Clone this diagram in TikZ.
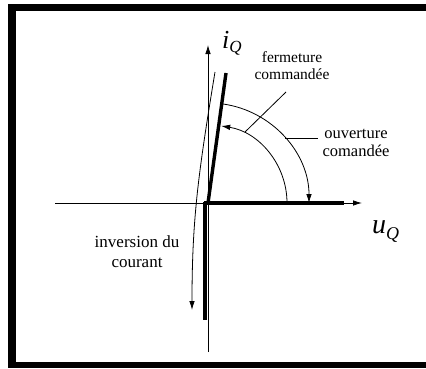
\documentclass[tikz,border=0pt]{standalone}
\usepackage{fontspec}
\setmainfont{Liberation Serif}
\usetikzlibrary{arrows.meta,calc}
\begin{document}
\begin{tikzpicture}[x=1pt,y=1pt,
  thinline/.style={line width=0.8pt},
  thickline/.style={line width=3.4pt},
  tip/.style={-{Latex[length=9pt,width=5.5pt]}},
  lbl/.style={align=center, inner sep=0pt},
  biglbl/.style={inner sep=0pt, anchor=base west}]
\useasboundingbox (0,0) rectangle (426,368);
% frame
\fill[black] (8,0) rectangle (16,364);
\fill[black] (8,357) rectangle (426,364);
\fill[black] (8,0) rectangle (426,6);
% coordinates
\coordinate (O) at (209,165);
\coordinate (hx0) at (55,165);
\coordinate (hx1) at (362,165);
\coordinate (vy0) at (208,16);
\coordinate (vy1) at (208,323);
\coordinate (th0) at (204,165);
\coordinate (th1) at (344,165);
\coordinate (tv0) at (205,166);
\coordinate (tv1) at (205,48);
\coordinate (ts0) at (208,165);
\coordinate (ts1) at (226,295);
\coordinate (c0) at (215,296);
\coordinate (c1) at (192,58);
% axes
\draw[thinline,tip] (hx0) -- (hx1);
\draw[thinline,tip] (vy0) -- (vy1);
% thick characteristic
\draw[thickline] (th0) -- (th1);
\draw[thickline] (tv0) -- (tv1);
\draw[thickline] (ts0) -- (ts1);
% inversion curve
\draw[thinline,tip] (c0) .. controls (198,193) and (192,148) .. (c1);
% arcs
\draw[thinline,tip] ($(O)+(82:100)$) arc[start angle=82,end angle=0,radius=100];
\draw[thinline,tip] ($(O)+(0:78)$) arc[start angle=0,end angle=81,radius=78];
% leaders
\coordinate (lf0) at (245,236);
\coordinate (lf1) at (286,276);
\coordinate (lo0) at (285,230);
\coordinate (lo1) at (318,230);
\draw[thinline] (lf0) -- (lf1);
\draw[thinline] (lo0) -- (lo1);
% labels
\node[lbl,font=\fontsize{15.5}{17}\selectfont] (ferm) at (292,302) {fermeture\\commandée};
\node[lbl,font=\fontsize{16.5}{18}\selectfont] (ouv) at (356,225) {ouverture\\comandée};
\node[lbl,font=\fontsize{17}{20}\selectfont] (inv) at (137,116) {inversion du\\courant};
\node[biglbl] (iq) at (222,320) {\fontsize{26}{26}\selectfont\textit{i}\raisebox{-5pt}{\fontsize{17}{17}\selectfont\textit{Q}}};
\node[biglbl] (uq) at (372,135) {\fontsize{28}{28}\selectfont\textit{u}\raisebox{-6pt}{\fontsize{18}{18}\selectfont\textit{Q}}};
\end{tikzpicture}
\end{document}
